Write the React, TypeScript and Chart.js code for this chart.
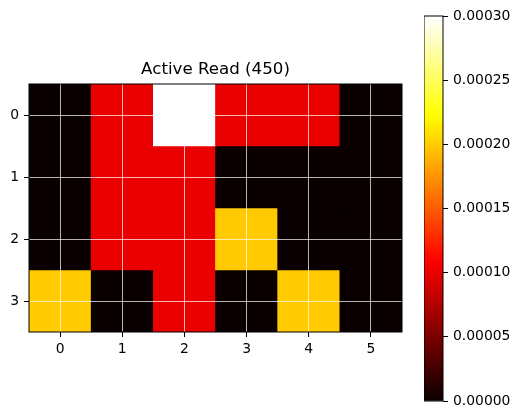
import React, { useEffect, useRef } from 'react';
import { Chart, registerables } from 'chart.js';
Chart.register(...registerables);

const FONT = 'DejaVu Sans';
const titleText = 'Active Read (450)';
const colLabels = ['0', '1', '2', '3', '4', '5'];
const rowLabels = ['0', '1', '2', '3'];
const row0 = [0, 0.0001, 0.0003, 0.0001, 0.0001, 0];
const row1 = [0, 0.0001, 0.0001, 0, 0, 0];
const row2 = [0, 0.0001, 0.0001, 0.0002, 0, 0];
const row3 = [0.0002, 0, 0.0001, 0, 0.0002, 0];
const rowTicks = [0, 1, 2, 3];
const vmin = 0;
const vmax = 0.0003;
const cbTicks = [0, 0.00005, 0.0001, 0.00015, 0.0002, 0.00025, 0.0003];

function hot(t: number): string {
  const c = Math.max(0, Math.min(1, t));
  const i = Math.min(255, Math.floor(c * 256));
  const x = i / 255;
  const r = x < 0.365079 ? 0.0416 + (1 - 0.0416) * (x / 0.365079) : 1;
  const g = x < 0.365079 ? 0 : x < 0.746032 ? (x - 0.365079) / (0.746032 - 0.365079) : 1;
  const b = x < 0.746032 ? 0 : (x - 0.746032) / (1 - 0.746032);
  return `rgb(${Math.round(r * 255)},${Math.round(g * 255)},${Math.round(b * 255)})`;
}

const framePlugin = {
  id: 'frame',
  afterDraw(chart: any) {
    const { ctx, chartArea: a } = chart;
    ctx.save();
    ctx.strokeStyle = '#000';
    ctx.lineWidth = 1;
    ctx.strokeRect(a.left, a.top, a.right - a.left, a.bottom - a.top);
    ctx.restore();
  },
};

const GRID_COLOR = 'rgba(255,255,255,0.7)';

export default function App() {
  const heatRef = useRef<HTMLCanvasElement>(null);
  const cbRef = useRef<HTMLCanvasElement>(null);

  useEffect(() => {
    const grid = [row0, row1, row2, row3];
    const heat = new Chart(heatRef.current as HTMLCanvasElement, {
      type: 'bar',
      data: {
        labels: colLabels,
        datasets: grid.map((row, r) => ({
          label: rowLabels[r],
          data: row.map(() => [r - 0.5, r + 0.5]),
          backgroundColor: row.map((v) => hot((v - vmin) / (vmax - vmin))),
          borderWidth: 0,
          grouped: false,
          barPercentage: 1,
          categoryPercentage: 1,
        })) as any,
      },
      options: {
        responsive: false,
        animation: false,
        layout: { padding: { top: 59.5, right: 8, left: 0, bottom: 0 } },
        plugins: {
          legend: { display: false },
          tooltip: { enabled: false },
          title: {
            display: true,
            text: titleText,
            fullSize: false,
            color: '#000',
            font: { family: FONT, size: 16.67, weight: 'normal', lineHeight: 1.2 },
            padding: { top: 0, bottom: 4.5 },
          },
        },
        scales: {
          x: {
            type: 'category',
            offset: true,
            grid: { z: 1, offset: false, color: GRID_COLOR, lineWidth: 1, tickColor: '#000', tickLength: 5, tickWidth: 1 },
            border: { display: false },
            ticks: { color: '#000', font: { family: FONT, size: 13.9 }, padding: 4, maxRotation: 0, autoSkip: false },
            afterFit: (s: any) => { s.height = 87; },
          },
          y: {
            type: 'linear',
            min: -0.5,
            max: 3.5,
            reverse: true,
            afterBuildTicks: (s: any) => { s.ticks = rowTicks.map((v) => ({ value: v })); },
            grid: { z: 1, color: GRID_COLOR, lineWidth: 1, tickColor: '#000', tickLength: 5, tickWidth: 1 },
            border: { display: false },
            ticks: { color: '#000', font: { family: FONT, size: 13.9 }, padding: 5, callback: (v: any) => String(v) },
            afterFit: (s: any) => { s.width = 29; },
          },
        },
      } as any,
      plugins: [framePlugin],
    });

    const cb = new Chart(cbRef.current as HTMLCanvasElement, {
      type: 'bar',
      data: {
        labels: [''],
        datasets: [
          {
            data: [[vmin, vmax]] as any,
            backgroundColor: (ctx: any) => {
              const a = ctx.chart.chartArea;
              if (!a) return '#000';
              const g = ctx.chart.ctx.createLinearGradient(0, a.bottom, 0, a.top);
              const n = 128;
              for (let k = 0; k <= n; k++) g.addColorStop(k / n, hot(k / n));
              return g;
            },
            borderWidth: 0,
            barPercentage: 1,
            categoryPercentage: 1,
          },
        ],
      },
      options: {
        responsive: false,
        animation: false,
        layout: { padding: { top: 16, bottom: 18, left: 0, right: 0 } },
        plugins: { legend: { display: false }, tooltip: { enabled: false } },
        scales: {
          x: { display: false },
          y: {
            position: 'right',
            min: vmin,
            max: vmax,
            afterBuildTicks: (s: any) => { s.ticks = cbTicks.map((v) => ({ value: v })); },
            grid: { z: 1, drawOnChartArea: false, tickColor: '#000', tickLength: 5, tickWidth: 1 },
            border: { display: false },
            ticks: { color: '#000', font: { family: FONT, size: 13.9 }, padding: 5, callback: (v: any) => Number(v).toFixed(5) },
            afterFit: (s: any) => { s.width = 76; },
          },
        },
      } as any,
      plugins: [framePlugin],
    });

    return () => {
      heat.destroy();
      cb.destroy();
    };
  }, []);

  return (
    <div style={{ position: 'fixed', left: 0, top: 0, width: 519, height: 419, background: '#fff' }}>
      <canvas ref={heatRef} width={410} height={419} style={{ position: 'absolute', left: 0, top: 0 }} />
      <canvas ref={cbRef} width={95} height={419} style={{ position: 'absolute', left: 424, top: 0 }} />
    </div>
  );
}
